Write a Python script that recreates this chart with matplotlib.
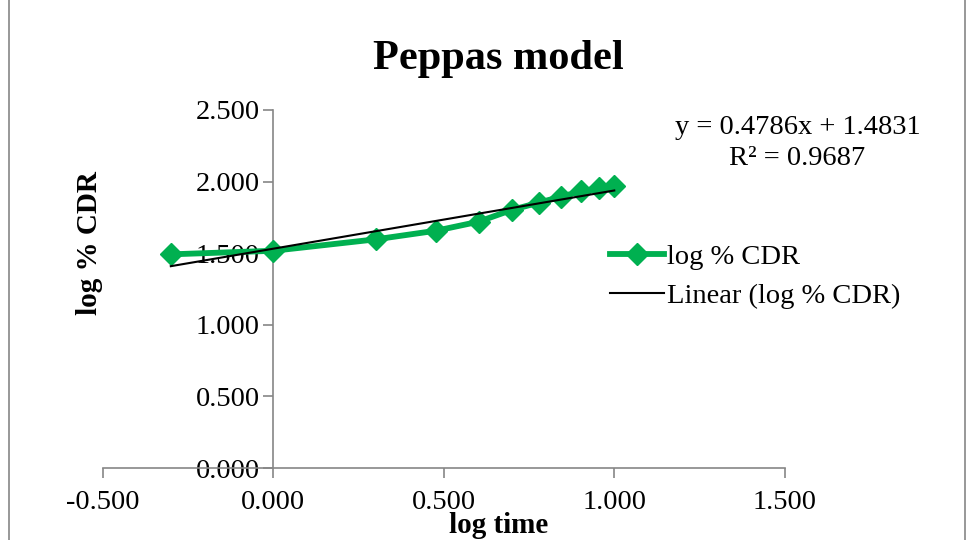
import matplotlib.pyplot as plt
import numpy as np
import matplotlib

matplotlib.rcParams['font.family'] = ['Liberation Serif', 'DejaVu Serif']

# log time vs log % CDR
log_time = [-0.301, 0.000, 0.301, 0.477, 0.602, 0.699, 0.778, 0.845, 0.903, 0.954, 1.000]
log_cdr = [1.492, 1.517, 1.597, 1.657, 1.720, 1.802, 1.853, 1.895, 1.934, 1.953, 1.971]
eq_text = "y = 0.4786x + 1.4831"
r2_text = "R² = 0.9687"
xticks = [-0.5, 0.0, 0.5, 1.0, 1.5]
yticks = [0.0, 0.5, 1.0, 1.5, 2.0, 2.5]

green = '#00B050'
gray = '#868686'

fig = plt.figure(figsize=(9.76, 5.4), dpi=100)
ax = fig.add_axes([0.1055, 0.1333, 0.6985, 0.663])

ax.plot(log_time, log_cdr, color=green, lw=4.2, marker='D', ms=11,
        label='log % CDR', zorder=3)

# linear trendline
coef = np.polyfit(log_time, log_cdr, 1)
xs = np.array([log_time[0], log_time[-1]])
ax.plot(xs, np.polyval(coef, xs), color='black', lw=1.5,
        label='Linear (log % CDR)', zorder=4)

ax.set_xlim(-0.5, 1.5)
ax.set_ylim(0, 2.5)
ax.set_xticks(xticks)
ax.set_yticks(yticks)
ax.xaxis.set_major_formatter(matplotlib.ticker.FormatStrFormatter('%.3f'))
ax.yaxis.set_major_formatter(matplotlib.ticker.FormatStrFormatter('%.3f'))

ax.spines['left'].set_position(('data', 0))
ax.spines['top'].set_visible(False)
ax.spines['right'].set_visible(False)
for s in ['left', 'bottom']:
    ax.spines[s].set_color(gray)
    ax.spines[s].set_linewidth(1.2)
ax.tick_params(axis='both', direction='out', length=7, width=1.2, color=gray,
               labelsize=20.5, pad=3)
ax.tick_params(axis='x', pad=9)

fig.text(0.511, 0.027, 'log time', ha='center', va='center',
         fontsize=21, fontweight='bold')
fig.text(0.092, 0.55, 'log % CDR', ha='center', va='center',
         fontsize=21, fontweight='bold', rotation=90)
fig.text(0.511, 0.89, 'Peppas model', ha='center', va='center',
         fontsize=30.5, fontweight='bold')

fig.text(0.817, 0.763, eq_text, ha='center', va='center', fontsize=20.5)
fig.text(0.817, 0.707, r2_text, ha='center', va='center', fontsize=20.5)

ax.legend(loc='center left', bbox_to_anchor=(0.625, 0.488), bbox_transform=fig.transFigure,
          frameon=False, fontsize=20.5, handlelength=1.9, handletextpad=0.1,
          labelspacing=0.46, borderaxespad=0, borderpad=0)

# outer chart border
fig.patches.append(matplotlib.patches.Rectangle((0.009, -0.01), 0.98, 1.02,
                   transform=fig.transFigure, fill=False, edgecolor=gray, lw=1.2))

fig.savefig('out.png', dpi=100)
